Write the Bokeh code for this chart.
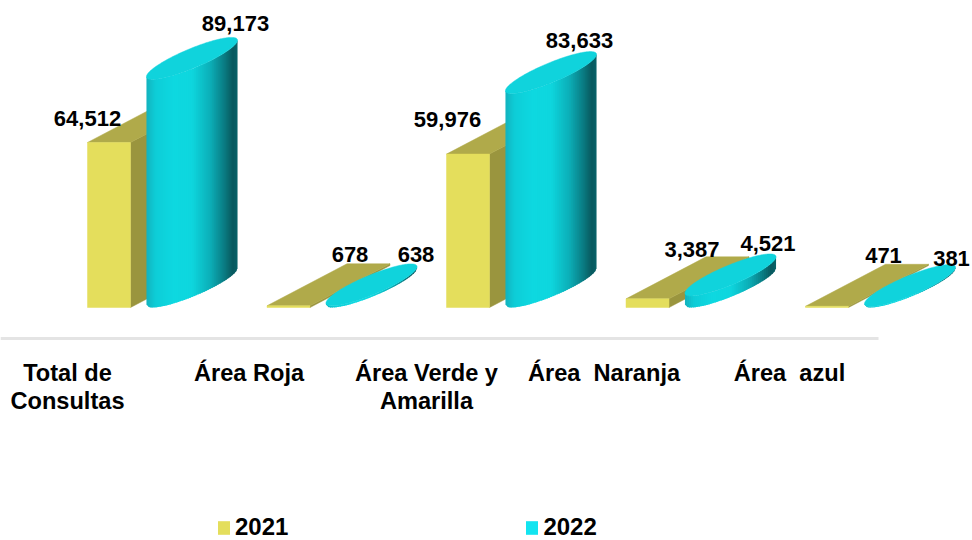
import numpy as np
from bokeh.core.properties import value
from bokeh.embed import file_html
from bokeh.models import Legend, LegendItem, Range1d
from bokeh.plotting import figure
from bokeh.resources import INLINE

# ---- data ----
CATEGORIES = ["Total de\nConsultas", "Área Roja", "Área Verde y\nAmarilla", "Área\u00a0 Naranja", "Área\u00a0 azul"]
SERIES_2021 = [64512, 678, 59976, 3387, 471]
SERIES_2022 = [89173, 638, 83633, 4521, 381]
LEGEND_NAMES = ["2021", "2022"]

# ---- label nudges (screen px, relative to the bar's front top) ----
LABEL_DX_2021 = [0, 83, 1, 66, 78]
LABEL_DY_2021 = [-24, -51, -35, -49, -51]
LABEL_DX_2022 = [148, 149, 133, 142, 146]
LABEL_DY_2022 = [-56, -51, -53, -52, -48]
CAT_DX = [-20, -18, -20, -22, -16]

# ---- layout ----
W, H = 972, 540
PX_PER_CAT = 179.5
PX_PER_VAL = 0.002558
X0_PX, BASE_PX = 87, 307
BAR_W, DEPTH_X, DEPTH_Y = 43, 80, 42
CYL_L, CYL_R = 59, 150
CYL_A, CYL_B = 49.2, 9.7
CYL_T = np.radians(22.7)
YEL_FRONT, YEL_SIDE, YEL_TOP = "#e4de5c", "#9a953e", "#b0aa4a"
CYAN_CAP, CYAN_LEG = "#10d3dc", "#12e4f0"
GRAD_POS = [0.0, 0.10, 0.30, 0.50, 0.70, 0.85, 0.95, 1.0]
GRAD_RGB = np.array([[18, 178, 190], [14, 205, 215], [14, 216, 224], [14, 214, 222],
                     [12, 175, 184], [10, 125, 132], [8, 88, 94], [8, 100, 106]])

fx = lambda px: px / PX_PER_CAT
fy = lambda px: px / PX_PER_VAL

p = figure(width=W, height=H, output_backend="svg", toolbar_location=None,
           x_range=Range1d(-X0_PX / PX_PER_CAT, (W - X0_PX) / PX_PER_CAT),
           y_range=Range1d(-(H - BASE_PX) / PX_PER_VAL, BASE_PX / PX_PER_VAL),
           min_border=0, outline_line_color=None)
p.axis.visible = False
p.grid.visible = False

idx = np.arange(len(CATEGORIES), dtype=float)
v21 = np.array(SERIES_2021, float)
v22 = np.array(SERIES_2022, float)

# axis rule
p.segment(x0=[-X0_PX / PX_PER_CAT], x1=[(878 - X0_PX) / PX_PER_CAT], y0=[fy(-31)], y1=[fy(-31)],
          line_color="#e4e4e4", line_width=3)

# yellow prisms
bw, dx, dy = fx(BAR_W), fx(DEPTH_X), fy(DEPTH_Y)
top_xs = [[i, i + bw, i + bw + dx, i + dx] for i in idx]
top_ys = [[v, v, v + dy, v + dy] for v in v21]
side_xs = [[i + bw, i + bw + dx, i + bw + dx, i + bw] for i in idx]
side_ys = [[0, dy, v + dy, v] for v in v21]
p.patches(side_xs, side_ys, fill_color=YEL_SIDE, line_color=YEL_SIDE, line_width=0.5)
p.patches(top_xs, top_ys, fill_color=YEL_TOP, line_color=YEL_TOP, line_width=0.5)
front = p.vbar(x=idx + bw / 2, width=bw, bottom=0, top=v21, fill_color=YEL_FRONT, line_color=YEL_FRONT, line_width=0.5)

# cyan tilted cylinders
phi = np.linspace(0, 2 * np.pi, 241)
ex = CYL_A * np.cos(phi) * np.cos(CYL_T) - CYL_B * np.sin(phi) * np.sin(CYL_T)
ey = CYL_A * np.cos(phi) * np.sin(CYL_T) + CYL_B * np.sin(phi) * np.cos(CYL_T)
half_x, half_y = ex.max(), ey.max()
n = len(phi) - 1
il, ir = int(ex[:n].argmin()), int(ex[:n].argmax())
arc_a = [(il + k) % n for k in range(((ir - il) % n) + 1)]
arc_b = [(ir + k) % n for k in range(((il - ir) % n) + 1)][::-1]
# lower arc in data terms = the one with smaller mean y
order = arc_a if (ey[arc_a] - np.interp(ex[arc_a], ex[arc_b], ey[arc_b])).mean() < 0 else arc_b
low_x, low_y = ex[order], ey[order]
edges = np.linspace(-half_x, half_x, 47)
mids = (edges[:-1] + edges[1:]) / 2
tt = (mids + half_x) / (2 * half_x)
rgb = np.stack([np.interp(tt, GRAD_POS, GRAD_RGB[:, c]) for c in range(3)], axis=1)
cols = ["#%02x%02x%02x" % tuple(int(round(c)) for c in row) for row in rgb]
cx_off = (CYL_L + CYL_R) / 2
for i, v in zip(idx, v22):
    cx = i + fx(cx_off)
    cy = fy(half_y)
    xs, ys, fc = [], [], []
    for k in range(len(mids)):
        a = edges[k]
        b = edges[k + 1] + (1.0 if k < len(mids) - 1 else 0.0)   # overlap hides the seams
        ya, yb = np.interp([a, b], low_x, low_y)
        xs.append([cx + fx(a), cx + fx(b), cx + fx(b), cx + fx(a)])
        ys.append([cy + fy(ya), cy + fy(yb), cy + fy(yb) + v, cy + fy(ya) + v])
        fc.append(cols[k])
    p.patches(xs, ys, fill_color=fc, line_color=None)
    p.patch(cx + fx(ex), cy + v + fy(ey), fill_color=CYAN_CAP, line_color=CYAN_CAP, line_width=0.5)

LABEL_KW = dict(text_font=value("Liberation Sans"), text_font_style="bold", text_color="#000000",
                text_align="center", text_baseline="middle", text_font_size="22px")
fmt = lambda a: [f"{int(x):,}" for x in a]
p.text(x=idx, y=v21, text=fmt(v21), x_offset=LABEL_DX_2021, y_offset=LABEL_DY_2021, **LABEL_KW)
p.text(x=idx, y=v22, text=fmt(v22), x_offset=LABEL_DX_2022, y_offset=LABEL_DY_2022, **LABEL_KW)

# category labels
p.text(x=idx + np.array(CAT_DX) / PX_PER_CAT, y=fy(-52), text=CATEGORIES, text_line_height=1.1,
       text_font=value("Liberation Sans"), text_font_style="bold", text_color="#000000",
       text_align="center", text_baseline="top", text_font_size="23.6px")

# legend
leg_yel = p.vbar(x=[0], width=0, top=[0], fill_color=YEL_FRONT, line_color=None)
leg_cy2 = p.vbar(x=[0], width=0, top=[0], fill_color=CYAN_LEG, line_color=None)
legend = Legend(items=[LegendItem(label=LEGEND_NAMES[0], renderers=[leg_yel]),
                       LegendItem(label=LEGEND_NAMES[1], renderers=[leg_cy2])],
                orientation="horizontal", location=(216, -1), glyph_width=15, glyph_height=17,
                label_standoff=4, spacing=236, padding=0, margin=0, border_line_color=None,
                background_fill_alpha=0, label_text_font="Liberation Sans", label_text_font_style="bold",
                label_text_font_size="24px", label_text_color="#000000", label_height=20)
p.add_layout(legend)

html = file_html(p, INLINE)
html = html.replace("<head>", "<head><style>html,body{margin:0;padding:0;overflow:hidden}</style>", 1)
open("out.html", "w").write(html)
